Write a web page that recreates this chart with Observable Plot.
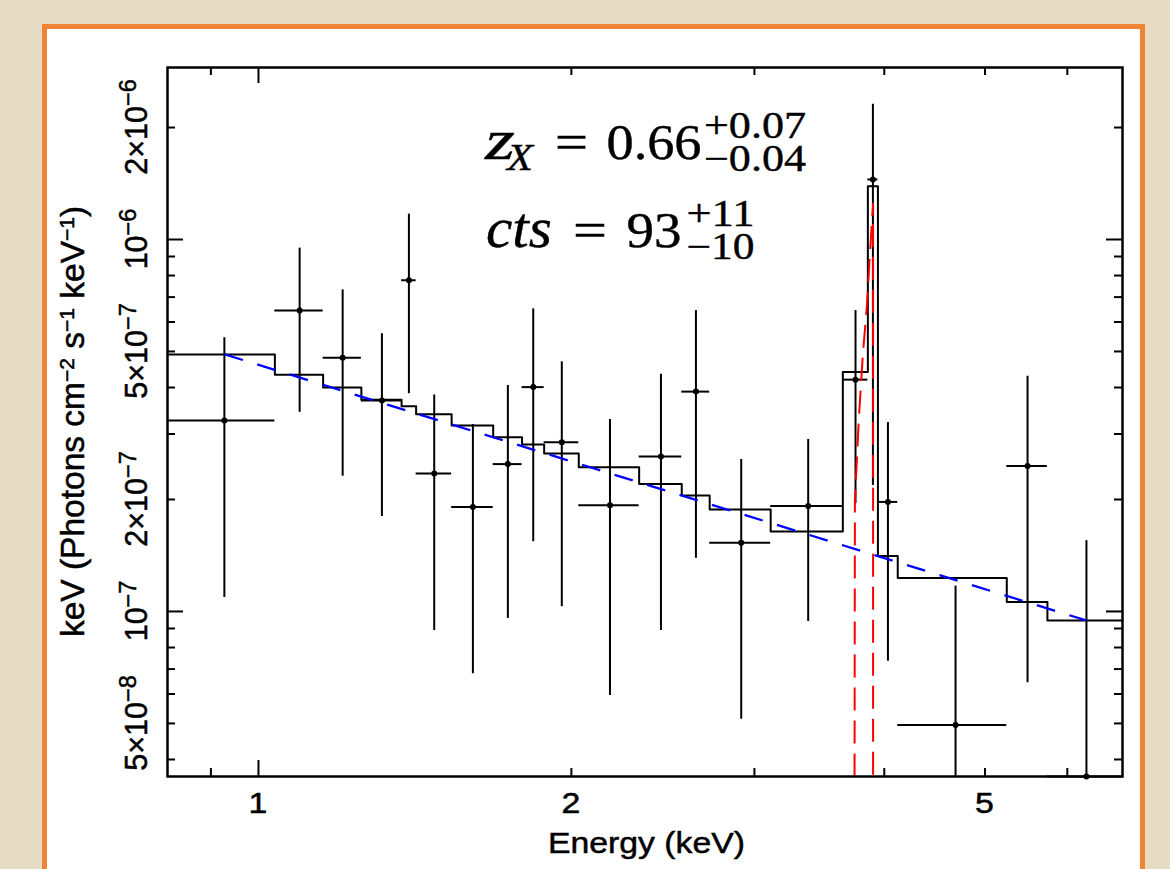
<!DOCTYPE html>
<html><head><meta charset="utf-8">
<script src="https://cdn.jsdelivr.net/npm/d3@7"></script>
<script src="https://cdn.jsdelivr.net/npm/@observablehq/plot@0.6"></script>
<style>
html,body{margin:0;padding:0;width:1170px;height:869px;overflow:hidden;background:#e6dcc4;}
#panel{position:absolute;left:42px;top:24px;width:1093px;height:900px;border:5px solid #ef8436;background:#fff;}
#chart{position:absolute;left:0;top:0;width:1170px;}
</style></head><body>
<div id="panel"></div>
<div id="chart"></div>
<script>
// ---- data ----
const binLo = [0.8175, 1.037, 1.154, 1.256, 1.373, 1.418, 1.534, 1.682, 1.793, 1.883, 2.033, 2.324, 2.554, 2.717, 3.110, 3.649, 3.857, 3.944, 4.121, 5.247, 5.741];
const binHi = [1.037, 1.154, 1.256, 1.373, 1.418, 1.534, 1.682, 1.793, 1.883, 2.033, 2.324, 2.554, 2.717, 3.110, 3.649, 3.857, 3.944, 4.121, 5.247, 5.741, 6.778];
const flux   = [3.26e-7, 6.44e-7, 4.81e-7, 3.69e-7, 7.77e-7, 2.35e-7, 1.91e-7, 2.49e-7, 4.01e-7, 2.85e-7, 1.93e-7, 2.61e-7, 3.90e-7, 1.53e-7, 1.92e-7, 4.20e-7, 1.45e-6, 1.97e-7, 4.95e-8, 2.46e-7, 3.6e-8];
const fluxHi = [5.44e-7, 9.48e-7, 7.32e-7, 5.58e-7, 1.17e-6, 3.82e-7, 3.18e-7, 4.05e-7, 6.51e-7, 4.69e-7, 3.28e-7, 4.34e-7, 6.44e-7, 2.56e-7, 2.90e-7, 6.44e-7, 2.31e-6, 3.22e-7, 1.17e-7, 4.29e-7, 1.55e-7];
const fluxLo = [1.09e-7, 3.43e-7, 2.31e-7, 1.80e-7, 3.85e-7, 8.89e-8, 6.80e-8, 9.58e-8, 1.54e-7, 1.03e-7, 5.94e-8, 8.89e-8, 1.39e-7, 5.13e-8, 9.40e-8, 1.95e-7, 2.18e-7, 7.35e-8, 3.6e-8, 6.43e-8, 3.6e-8];
const model  = [4.91e-7, 4.33e-7, 4.00e-7, 3.71e-7, 3.56e-7, 3.39e-7, 3.16e-7, 2.94e-7, 2.81e-7, 2.66e-7, 2.44e-7, 2.20e-7, 2.05e-7, 1.88e-7, 1.64e-7, 4.40e-7, 1.39e-6, 1.41e-7, 1.23e-7, 1.06e-7, 9.46e-8];
const contE = [0.928, 6.256];
const contF = [4.91e-7, 9.46e-8];
const lineE = [3.745, 3.748, 3.780, 3.814, 3.849, 3.874, 3.902, 3.902];
const lineF = [3.6e-8, 1.99e-7, 3.26e-7, 4.88e-7, 6.65e-7, 9.06e-7, 1.25e-6, 3.6e-8];
const xTicksMajor = [1];
const xTicksMinor = [0.9, 2, 3, 4, 5, 6];
const xLabelValues = [1, 2, 5];
const yTicksMajor = [1e-7, 1e-6];
const yTicksMinor = [4e-8, 5e-8, 6e-8, 7e-8, 8e-8, 9e-8, 2e-7, 3e-7, 4e-7, 5e-7, 6e-7, 7e-7, 8e-7, 9e-7, 2e-6];
const yLabelValues = [2e-6, 1e-6, 5e-7, 2e-7, 1e-7, 5e-8];
const yLabelMant = ["2×10", "10", "5×10", "2×10", "10", "5×10"];
const yLabelExp  = ["−6", "−6", "−7", "−7", "−7", "−8"];

// ---- layout ----
const W = 1170, H = 869, mL = 167, mR = 48, mT = 67, mB = 93;
const innerW = W - mL - mR, innerH = H - mT - mB;
const LONG = 16, SHORT = 8;

const data = binLo.map((lo, i) => ({lo, hi: binHi[i], e: (lo + binHi[i]) / 2, f: flux[i], fl: fluxLo[i], fh: fluxHi[i]}));
const steps = binLo.map((lo, i) => ({x: lo, y: model[i]})).concat([{x: binHi[binHi.length - 1], y: model[model.length - 1]}]);
const cont = contE.map((x, i) => ({x, y: contF[i]}));
const gl = lineE.map((x, i) => ({x, y: lineF[i]}));

const tk = {stroke: "#000", strokeWidth: 2};
const svgEl = Plot.plot({
  width: W, height: H, marginLeft: mL, marginRight: mR, marginTop: mT, marginBottom: mB,
  style: {background: "transparent", overflow: "visible", maxWidth: "none"},
  x: {type: "log", domain: [0.8175, 6.78], axis: null},
  y: {type: "log", domain: [3.6e-8, 2.9e-6], axis: null},
  marks: [
    Plot.line(steps, {x: "x", y: "y", curve: "step-after", stroke: "#000", strokeWidth: 2}),
    Plot.ruleX(data, {x: "e", y1: "fl", y2: "fh", stroke: "#000", strokeWidth: 2}),
    Plot.ruleY(data, {y: "f", x1: "lo", x2: "hi", stroke: "#000", strokeWidth: 2}),
    Plot.dot(data, {x: "e", y: "f", r: 3, fill: "#000"}),
    Plot.line(cont, {x: "x", y: "y", stroke: "#0000ff", strokeWidth: 2.3, strokeDasharray: "19,15", strokeLinecap: "butt"}),
    Plot.line(gl, {x: "x", y: "y", stroke: "#ff0000", strokeWidth: 2, strokeDasharray: "23,10", strokeLinecap: "butt", curve: "linear"}),
    // inward ticks on all four sides
    Plot.tickX(xTicksMajor, {x: d => d, insetTop: innerH - LONG, ...tk}),
    Plot.tickX(xTicksMinor, {x: d => d, insetTop: innerH - SHORT, ...tk}),
    Plot.tickX(xTicksMajor, {x: d => d, insetBottom: innerH - LONG, ...tk}),
    Plot.tickX(xTicksMinor, {x: d => d, insetBottom: innerH - SHORT, ...tk}),
    Plot.tickY(yTicksMajor, {y: d => d, insetRight: innerW - LONG, ...tk}),
    Plot.tickY(yTicksMinor, {y: d => d, insetRight: innerW - SHORT, ...tk}),
    Plot.tickY(yTicksMajor, {y: d => d, insetLeft: innerW - LONG, ...tk}),
    Plot.tickY(yTicksMinor, {y: d => d, insetLeft: innerW - SHORT, ...tk}),
    Plot.frame({stroke: "#000", strokeWidth: 2.5})
  ]
});
document.getElementById("chart").appendChild(svgEl);

const svg = d3.select(svgEl);
const sx = svgEl.scale("x"), sy = svgEl.scale("y");
const SANS = "'Liberation Sans', Arial, Helvetica, sans-serif";
const SERIF = "'Liberation Serif', 'Times New Roman', serif";

function styled(sel, size, family, anchor, sw) {
  return sel.style("font-family", family).style("font-size", size + "px")
    .style("text-anchor", anchor).attr("fill", "#000")
    .attr("stroke", "#000").attr("stroke-width", sw);
}

// x tick labels
xLabelValues.forEach(v => {
  styled(svg.append("g").attr("transform", `translate(${sx.apply(v)},813) scale(1.13,1)`)
    .append("text"), 30, SANS, "middle", 0.5).text(String(v));
});
// x title
styled(svg.append("text").attr("x", 646.5).attr("y", 853), 30, SANS, "middle", 0.5)
  .attr("textLength", 197).attr("lengthAdjust", "spacingAndGlyphs").text("Energy (keV)");

// y tick labels (rotated)
yLabelValues.forEach((v, i) => {
  const t = styled(svg.append("text").attr("transform", `translate(147,${sy.apply(v)}) rotate(-90)`), 30.5, SANS, "middle", 0.5);
  t.append("tspan").text(yLabelMant[i]);
  t.append("tspan").style("font-size", "23.5px").attr("dy", -11).text(yLabelExp[i]);
});

// y title
{
  const t = styled(svg.append("text").attr("transform", `translate(83.5,${mT + innerH / 2}) rotate(-90)`), 33.5, SANS, "middle", 0.5);
  const parts = [["keV (Photons cm", 0], ["−2", 1], [" s", 0], ["−1", 1], [" keV", 0], ["−1", 1], [")", 0]];
  let up = false;
  parts.forEach(([s, sup]) => {
    const ts = t.append("tspan").text(s);
    if (sup) { ts.style("font-size", "21px").attr("dy", -10); up = true; }
    else if (up) { ts.attr("dy", 10); up = false; }
  });
}

// annotation
function piece(s, x, y, size, w, italic) {
  styled(svg.append("text").attr("x", x).attr("y", y), size, SERIF, "start", 0.4)
    .style("font-style", italic ? "italic" : "normal")
    .attr("textLength", w).attr("lengthAdjust", "spacingAndGlyphs").text(s);
}
piece("z", 485, 159, 56, 30, true);
piece("X", 507, 170, 38, 26, true);
piece("=", 555, 159, 50, 33, false);
piece("0.66", 606.5, 159, 50, 95, false);
piece("+0.07", 704, 138, 37, 102, false);
piece("−0.04", 704, 171, 37, 102, false);
piece("cts", 486, 246.5, 56, 66, true);
piece("=", 573, 246.5, 50, 34, false);
piece("93", 626.5, 246.5, 50, 55, false);
piece("+11", 686.5, 226, 37, 68, false);
piece("−10", 686.5, 259, 37, 68, false);
</script>
</body></html>
